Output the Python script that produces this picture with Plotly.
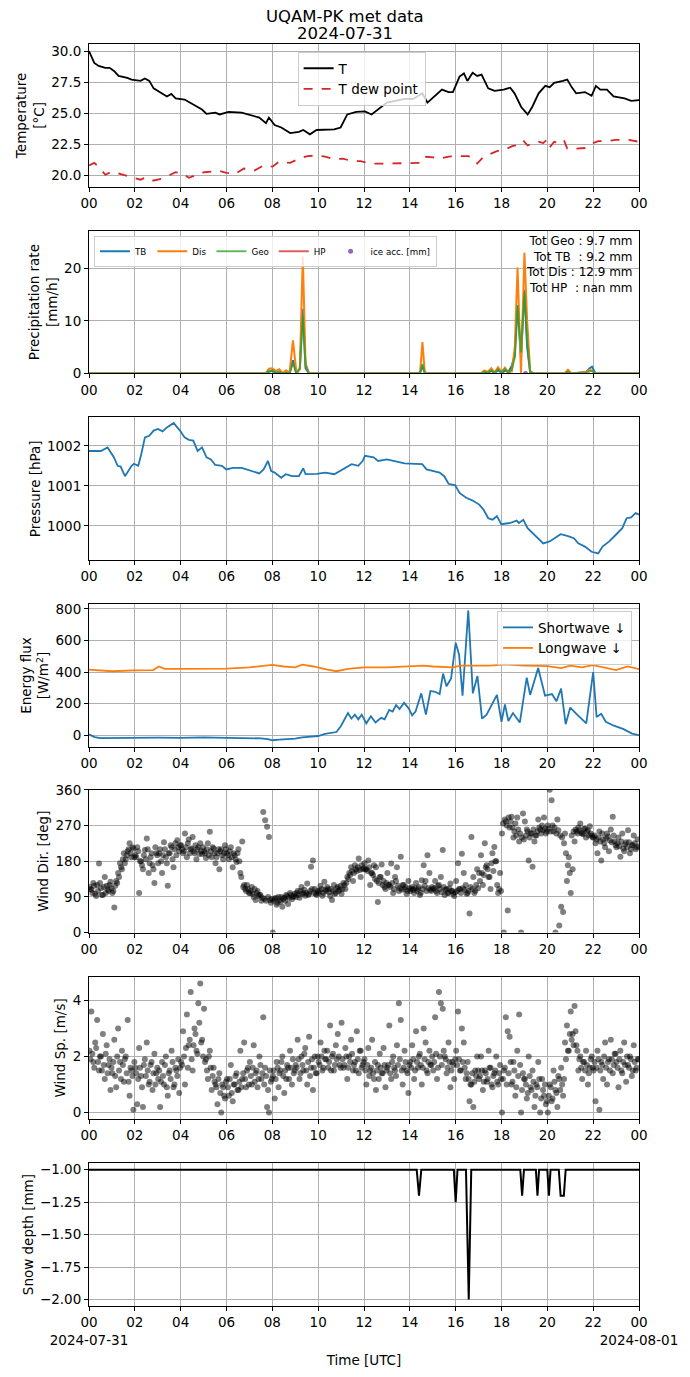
import numpy as np
import pandas as pd
import plotly.graph_objects as go
from plotly.subplots import make_subplots

DAY = pd.Timestamp("2024-07-31")

# --- temperature (hours since 00 UTC) ---
t_hours = [0.00, 0.23, 0.42, 0.71, 0.90, 1.09, 1.29, 1.67, 1.86, 2.25, 2.44, 2.63, 2.82, 3.21, 3.40,
           3.59, 3.78, 4.17, 4.55, 4.93, 5.13, 5.51, 5.70, 6.09, 6.66, 7.05, 7.43, 7.72, 7.85, 8.10,
           8.39, 8.78, 9.16, 9.35, 9.64, 9.93, 10.31, 10.70, 10.98, 11.27, 11.66, 12.04, 12.33, 12.62,
           13.00, 13.38, 13.77, 14.15, 14.54, 14.77, 15.11, 15.40, 15.69, 15.88, 16.17, 16.36, 16.51,
           16.74, 16.94, 17.13, 17.42, 17.70, 18.09, 18.38, 18.57, 18.86, 19.14, 19.34, 19.62, 19.91,
           20.10, 20.30, 20.68, 20.87, 21.06, 21.26, 21.64, 21.93, 22.12, 22.31, 22.60, 22.89, 23.37,
           23.66, 24.00]
t_air = [30.0, 29.05, 28.8, 28.65, 28.65, 28.4, 28.0, 27.85, 27.7, 27.6, 27.8, 27.6, 27.0, 26.6, 26.35,
         26.55, 26.2, 26.1, 25.7, 25.3, 24.95, 25.05, 24.9, 25.1, 25.05, 24.85, 24.65, 24.2, 24.65, 24.05,
         23.85, 23.4, 23.5, 23.65, 23.3, 23.65, 23.7, 23.7, 23.85, 24.9, 25.1, 25.15, 24.9, 25.3,
         25.85, 26.0, 26.15, 26.15, 26.6, 25.85, 26.4, 26.9, 26.7, 26.7, 27.95, 28.2, 27.6,
         28.25, 28.0, 28.1, 27.0, 26.8, 26.9, 27.05, 26.6, 25.5, 24.9, 25.5, 26.6, 27.2,
         27.1, 27.45, 27.6, 27.7, 27.1, 26.6, 26.7, 26.4, 27.2, 26.9, 26.9, 26.35, 26.2,
         26.0, 26.05]
td_hours = [0, 0.23, 0.42, 0.71, 1.0, 1.29, 1.86, 2.25, 2.44, 2.73, 3.21, 3.78, 4.07, 4.36, 4.65, 5.03,
            5.70, 6.0, 6.37, 6.76, 7.24, 7.62, 8.01, 8.29, 8.78, 9.16, 9.54, 9.93, 10.31, 10.70, 11.08,
            11.46, 11.85, 12.23, 12.81, 13.38, 13.96, 14.44, 14.63, 15.02, 15.30, 15.69, 16.07, 16.55,
            16.74, 16.94, 17.22, 17.51, 17.80, 18.18, 18.47, 18.72, 18.95, 19.14, 19.37, 19.62, 19.82,
            19.97, 20.10, 20.30, 20.49, 20.72, 20.87, 21.26, 21.64, 21.93, 22.22, 22.60, 22.98, 23.56, 24.0]
t_dew = [20.8, 21.0, 20.7, 20.05, 20.3, 20.15, 19.85, 19.65, 19.8, 19.55, 19.75, 20.25, 20.15, 19.8, 20.0, 20.25,
         20.35, 20.2, 20.1, 20.55, 20.4, 20.8, 20.7, 21.1, 21.0, 21.35, 21.55, 21.6, 21.5, 21.3, 21.35,
         21.15, 21.15, 20.95, 20.95, 20.95, 20.95, 21.0, 21.5, 21.45, 21.35, 21.5, 21.55, 21.55,
         21.35, 20.95, 21.5, 21.75, 21.95, 22.1, 22.35, 22.45, 22.8, 22.4, 22.6, 22.7, 22.6,
         22.85, 22.25, 22.7, 22.6, 22.85, 22.15, 22.15, 22.2, 22.55, 22.75, 22.75, 22.85, 22.85, 22.7]

# --- precipitation rate [mm/h] ---
pr_hours = [0, 7.7, 7.85, 8.0, 8.15, 8.3, 8.45, 8.6, 8.75, 8.9, 9.05, 9.2, 9.33, 9.45, 9.6,
            14.35, 14.45, 14.55, 14.65, 14.75,
            17.1, 17.25, 17.4, 17.55, 17.7, 17.85, 18.0, 18.15, 18.3, 18.45, 18.58, 18.7, 18.85, 19.0,
            19.12, 19.25, 19.4,
            20.75, 20.9, 21.05,
            21.7, 21.85, 21.95, 22.1, 24]
pr_tb = [0, 0, 0.3, 0.5, 0.1, 0.2, 0, 0.1, 0, 2.5, 0, 1.0, 12.3, 1.0, 0,
         0, 0.1, 1.5, 0.1, 0,
         0, 0.2, 0.1, 0.5, 0.1, 0.6, 0.1, 0.5, 0.3, 1.5, 3.5, 13.0, 3.0, 16.0, 5.0, 0.2, 0,
         0, 0.2, 0,
         0.3, 1.0, 1.3, 0, 0]
pr_dis = [0, 0, 0.9, 1.0, 0.5, 0.8, 0.1, 0.6, 0.1, 6.3, 0.2, 1.0, 22.3, 2.0, 0,
          0, 0.3, 6.0, 0.3, 0,
          0, 0.6, 0.3, 1.0, 0.2, 1.2, 0.3, 1.1, 0.2, 0.4, 5.0, 20.2, 0.0, 23.0, 10.0, 0.5, 0,
          0, 0.7, 0,
          0.3, 0.7, 0.5, 0, 0]
pr_geo = [0, 0, 0.5, 0.6, 0.2, 0.3, 0, 0.2, 0, 2.0, 0, 0.8, 11.0, 1.5, 0,
          0, 0.2, 1.8, 0.2, 0,
          0, 0.3, 0.2, 0.6, 0.2, 0.8, 0.2, 0.8, 0.1, 0.8, 3.0, 13.0, 4.0, 15.5, 6.0, 0.3, 0,
          0, 0.3, 0,
          0.2, 0.4, 0.5, 0, 0]
ice_hours = [19.05]
ice_acc = [0.0]
totals = ["Tot Geo : 9.7 mm", "Tot TB\u00a0 : 9.2 mm", "Tot Dis : 12.9 mm", "Tot HP\u00a0 : nan mm"]

# --- pressure [hPa] ---
p_hours = [0.00, 0.52, 0.81, 1.09, 1.25, 1.38, 1.57, 1.86, 1.96, 2.15, 2.28, 2.44, 2.63, 2.82, 3.01,
           3.21, 3.40, 3.69, 3.97, 4.17, 4.36, 4.55, 4.74, 4.93, 5.13, 5.32, 5.51, 5.80, 5.99, 6.28,
           6.66, 7.05, 7.43, 7.62, 7.81, 7.95, 8.10, 8.39, 8.58, 8.87, 9.16, 9.35, 9.45, 9.93, 10.31,
           10.70, 11.08, 11.46, 11.75, 11.94, 12.04, 12.42, 12.62, 13.00, 13.38, 13.77, 14.25, 14.54,
           14.73, 15.02, 15.30, 15.50, 15.69, 15.98, 16.17, 16.46, 16.74, 17.03, 17.22, 17.42, 17.61,
           17.80, 17.99, 18.38, 18.66, 18.76, 18.95, 19.14, 19.53, 19.82, 20.10, 20.39, 20.58, 20.87,
           21.16, 21.35, 21.64, 21.93, 22.22, 22.41, 22.70, 22.98, 23.27, 23.46, 23.66, 23.85, 24.00]
pressure = [1001.87, 1001.87, 1001.96, 1001.71, 1001.50, 1001.48, 1001.24, 1001.50, 1001.55, 1001.50,
            1001.79, 1002.21, 1002.25, 1002.38, 1002.42, 1002.36, 1002.46, 1002.57, 1002.38, 1002.21,
            1002.15, 1002.13, 1001.87, 1001.96, 1001.71, 1001.66, 1001.52, 1001.50, 1001.41, 1001.45,
            1001.45, 1001.37, 1001.31, 1001.41, 1001.62, 1001.37, 1001.33, 1001.20, 1001.29, 1001.24,
            1001.24, 1001.44, 1001.29, 1001.30, 1001.33, 1001.29, 1001.41, 1001.54, 1001.50, 1001.62,
            1001.75, 1001.71, 1001.62, 1001.66, 1001.61, 1001.56, 1001.55, 1001.54, 1001.41, 1001.37,
            1001.33, 1001.24, 1001.05, 1001.01, 1000.82, 1000.70, 1000.63, 1000.53, 1000.40, 1000.19,
            1000.15, 1000.24, 1000.04, 1000.07, 1000.13, 1000.07, 1000.15, 999.94, 999.73, 999.56,
            999.61, 999.73, 999.79, 999.75, 999.69, 999.56, 999.48, 999.35, 999.31, 999.48,
            999.61, 999.77, 999.94, 1000.19, 1000.21, 1000.32, 1000.28]

# --- radiation [W/m2] ---
sw_hours = [0.0, 0.25, 0.5, 1.0, 2.0, 3.0, 4.0, 5.0, 6.0, 7.0, 7.5, 7.8, 8.0, 8.3, 8.7, 9.0, 9.3, 9.6,
            10.0, 10.3, 10.6, 10.8, 11.0, 11.15, 11.3, 11.45, 11.6, 11.75, 11.9, 12.1, 12.3, 12.5, 12.75,
            12.9, 13.1, 13.25, 13.4, 13.55, 13.75, 13.95, 14.1, 14.25, 14.5, 14.7, 14.9, 15.1, 15.3,
            15.45, 15.6, 15.8, 16.0, 16.15, 16.3, 16.55, 16.75, 16.95, 17.15, 17.35, 17.6, 17.8, 18.0,
            18.15, 18.3, 18.5, 18.8, 19.1, 19.25, 19.6, 19.9, 20.2, 20.4, 20.6, 20.8, 21.0, 21.3, 21.7,
            22.0, 22.15, 22.35, 22.55, 22.9, 23.3, 23.7, 24.0]
sw_down = [5, -12, -18, -17, -18, -15, -17, -14, -17, -16, -20, -25, -32, -28, -25, -22, -14, -12,
           -5, 8, 18, 20, 60, 100, 140, 105, 130, 100, 130, 75, 120, 80, 110,
           100, 160, 150, 190, 165, 205, 170, 125, 150, 265, 130, 280, 275, 260,
           390, 310, 360, 585, 510, 250, 790, 265, 375, 105, 130, 200, 255, 85,
           195, 90, 140, 80, 365, 255, 425, 250, 260, 215, 295, 70, 175, 130, 75,
           400, 115, 135, 85, 60, 40, 10, 0]
lw_hours = [0, 1, 2, 2.8, 3.05, 3.3, 4, 5, 6, 7, 8, 8.5, 9, 9.3, 9.8, 10.4, 10.8, 11.3, 12, 13, 14,
            14.6, 15, 15.9, 16.2, 17, 17.5, 18.2, 19, 20, 20.6, 21, 21.5, 22, 22.6, 23, 23.5, 24]
lw_down = [415, 405, 410, 412, 435, 420, 420, 422, 422, 430, 445, 435, 430, 447, 435, 415, 405, 420, 430, 430, 435,
           440, 435, 430, 440, 440, 440, 448, 440, 437, 425, 440, 430, 443, 425, 412, 435, 418]

# --- wind, two interleaved 5-minute sample sets, one row per hour ---
wind_dir = [
    [115, 108, 125, 98, 120, 174, 112, 95, 140, 118, 105, 128],
    [100, 63, 130, 150, 175, 160, 200, 185, 205, 225, 190, 212],
    [195, 215, 100, 180, 160, 208, 237, 150, 190, 170, 125, 200],
    [175, 210, 150, 228, 190, 118, 200, 215, 165, 225, 233, 205],
    [220, 200, 250, 190, 235, 210, 241, 200, 185, 215, 225, 198],
    [205, 188, 225, 254, 190, 212, 175, 200, 160, 210, 185, 220],
    [200, 185, 215, 165, 195, 178, 210, 150, 230, 120, 105, 110],
    [100, 115, 90, 82, 105, 95, 80, 304, 283, 267, 241, 75],
    [0, 85, 70, 90, 78, 65, 88, 95, 72, 100, 84, 92],
    [90, 105, 88, 115, 100, 93, 124, 98, 166, 182, 110, 95],
    [100, 118, 93, 128, 105, 110, 92, 82, 120, 100, 115, 108],
    [98, 125, 110, 140, 150, 165, 130, 170, 155, 187, 140, 160],
    [175, 160, 182, 120, 150, 170, 165, 77, 140, 172, 130, 110],
    [150, 120, 174, 100, 140, 165, 105, 191, 120, 110, 98, 130],
    [105, 115, 100, 125, 110, 95, 132, 170, 130, 195, 150, 105],
    [110, 130, 100, 120, 140, 208, 95, 110, 100, 124, 105, 92],
    [130, 175, 110, 199, 150, 120, 100, 48, 241, 140, 105, 160],
    [150, 195, 120, 225, 170, 140, 110, 200, 216, 180, 100, 150],
    [250, 0, 280, 56, 265, 292, 240, 275, 290, 230, 0, 300],
    [280, 260, 182, 250, 166, 230, 245, 285, 260, 270, 290, 250],
    [270, 360, 334, 255, 0, 285, 18, 65, 52, 250, 130, 190],
    [100, 160, 230, 255, 265, 275, 250, 262, 240, 258, 268, 245],
    [240, 225, 200, 255, 182, 235, 215, 250, 205, 260, 292, 230],
    [215, 240, 191, 250, 205, 228, 258, 200, 220, 245, 210, 235],
]
wind_dir_b = [
    [110, 100, 118, 92, 105, 125, 95, 115, 100, 108, 120, 112],
    [105, 118, 125, 140, 165, 185, 175, 195, 210, 200, 215, 190],
    [190, 205, 180, 170, 195, 185, 210, 175, 200, 160, 215, 195],
    [200, 180, 195, 210, 175, 200, 220, 185, 210, 195, 215, 220],
    [210, 205, 215, 225, 200, 212, 205, 220, 210, 198, 205, 215],
    [200, 210, 195, 205, 215, 200, 190, 210, 205, 195, 200, 210],
    [195, 205, 190, 200, 185, 200, 180, 140, 115, 110, 120, 100],
    [105, 98, 110, 100, 92, 95, 88, 85, 80, 90, 82, 85],
    [80, 88, 75, 82, 90, 85, 80, 92, 88, 95, 90, 98],
    [100, 95, 105, 98, 108, 100, 95, 105, 110, 100, 98, 105],
    [105, 110, 100, 108, 115, 102, 110, 105, 98, 112, 105, 118],
    [110, 120, 125, 135, 145, 155, 150, 160, 165, 158, 170, 162],
    [160, 155, 165, 150, 145, 135, 130, 125, 140, 120, 115, 125],
    [120, 115, 125, 110, 130, 118, 112, 108, 120, 115, 105, 112],
    [110, 108, 112, 105, 115, 100, 110, 118, 105, 112, 108, 115],
    [112, 105, 118, 110, 102, 115, 108, 100, 112, 105, 98, 102],
    [105, 110, 100, 112, 108, 98, 105, 115, 110, 100, 120, 112],
    [130, 150, 145, 165, 160, 140, 175, 155, 180, 120, 110, 105],
    [275, 285, 270, 290, 280, 265, 255, 245, 260, 250, 240, 235],
    [245, 255, 240, 250, 260, 245, 255, 265, 250, 258, 262, 255],
    [262, 255, 270, 265, 250, 258, 245, 240, 225, 200, 170, 150],
    [245, 255, 260, 250, 258, 252, 248, 262, 255, 245, 250, 240],
    [245, 235, 240, 230, 250, 225, 238, 242, 232, 228, 245, 220],
    [225, 218, 230, 212, 222, 215, 228, 210, 220, 225, 215, 218],
]
wind_sp = [
    [2.2, 3.6, 1.8, 2.5, 3.3, 1.5, 2.0, 2.8, 1.2, 2.4, 1.7, 0.8],
    [1.4, 2.6, 0.9, 3.0, 1.8, 2.2, 1.1, 2.0, 3.3, 0.6, 1.5, 0.1],
    [1.6, 0.3, 2.3, 1.3, 0.2, 1.9, 2.5, 1.0, 1.7, 0.8, 2.1, 1.4],
    [1.2, 0.2, 1.8, 1.0, 2.0, 0.6, 1.5, 2.2, 0.9, 1.6, 1.3, 0.7],
    [1.8, 2.9, 1.0, 3.5, 2.4, 4.3, 1.5, 3.0, 2.2, 3.9, 4.6, 2.6],
    [3.7, 1.9, 1.2, 2.2, 0.8, 1.6, 1.0, 0.3, 1.4, 0.0, 0.9, 0.5],
    [1.2, 0.6, 1.7, 0.4, 1.0, 1.4, 0.8, 2.2, 1.2, 2.5, 0.9, 1.6],
    [1.8, 1.0, 2.4, 1.4, 0.9, 2.0, 1.2, 3.4, 1.6, 0.2, 0.0, 1.1],
    [1.3, 0.5, 1.8, 0.9, 1.5, 2.0, 0.7, 1.2, 1.6, 2.2, 1.0, 1.4],
    [1.7, 2.6, 1.2, 2.0, 1.5, 2.3, 1.0, 2.7, 1.6, 0.8, 2.0, 1.4],
    [1.8, 2.5, 1.5, 2.2, 1.9, 1.6, 3.1, 2.0, 1.5, 2.4, 2.8, 1.7],
    [3.2, 1.6, 2.3, 1.2, 2.0, 2.6, 1.5, 1.8, 2.9, 1.4, 2.2, 1.7],
    [1.9, 1.0, 2.3, 1.5, 2.6, 1.2, 0.8, 1.7, 2.1, 1.4, 2.3, 0.9],
    [1.6, 3.1, 1.2, 2.0, 1.5, 2.4, 3.9, 3.3, 1.0, 2.2, 1.5, 0.7],
    [1.8, 2.4, 1.2, 2.9, 1.6, 2.1, 1.0, 3.0, 2.5, 1.4, 2.2, 1.7],
    [1.5, 3.4, 1.2, 4.3, 3.9, 3.7, 2.0, 1.4, 2.5, 0.9, 1.8, 1.2],
    [2.2, 3.6, 1.5, 3.0, 2.5, 1.2, 1.8, 0.4, 1.0, 0.2, 1.5, 2.0],
    [1.2, 2.0, 0.8, 1.5, 1.1, 2.2, 1.6, 0.9, 1.4, 2.0, 1.0, 1.7],
    [0.0, 1.5, 3.4, 2.9, 2.7, 1.0, 1.8, 0.6, 2.2, 3.5, 0.0, 1.4],
    [1.2, 0.5, 2.0, 0.9, 1.5, 0.2, 1.0, 1.8, 0.0, 1.2, 0.6, 0.3],
    [0.0, 1.0, 0.4, 1.5, 0.8, 0.2, 1.2, 1.6, 0.6, 2.5, 3.1, 2.2],
    [3.6, 2.8, 3.8, 2.4, 1.5, 2.0, 1.2, 1.8, 2.2, 1.0, 1.6, 2.0],
    [1.5, 0.4, 2.2, 0.1, 1.8, 1.2, 2.5, 1.0, 1.9, 2.6, 1.4, 2.1],
    [1.8, 0.9, 2.2, 1.4, 2.5, 1.1, 1.7, 2.0, 1.3, 2.4, 1.5, 1.9],
]
wind_sp_b = [
    [1.9, 2.1, 1.6, 2.3, 1.8, 2.0, 1.5, 1.7, 2.1, 1.4, 1.9, 1.6],
    [1.8, 1.3, 2.0, 1.5, 1.2, 1.7, 1.9, 1.4, 1.1, 1.6, 1.3, 1.8],
    [1.4, 1.2, 1.6, 0.9, 1.7, 1.3, 1.5, 1.1, 1.8, 1.4, 1.0, 1.6],
    [1.5, 1.1, 1.3, 1.7, 0.9, 1.4, 1.2, 1.8, 1.0, 1.5, 1.9, 1.6],
    [1.7, 2.0, 2.3, 1.6, 2.6, 1.9, 2.4, 2.8, 2.1, 3.2, 2.5, 2.0],
    [1.8, 1.5, 2.0, 1.6, 1.3, 1.1, 0.9, 1.2, 0.7, 1.0, 0.6, 1.1],
    [0.9, 1.2, 0.7, 1.0, 1.3, 0.8, 1.1, 0.9, 1.4, 1.2, 1.5, 1.0],
    [1.3, 1.6, 1.1, 1.5, 1.2, 1.7, 1.4, 1.0, 1.3, 0.8, 1.5, 1.2],
    [1.5, 1.2, 1.6, 1.4, 1.8, 1.3, 1.5, 1.7, 1.2, 1.6, 1.9, 1.5],
    [1.6, 1.9, 1.4, 1.7, 2.1, 1.5, 1.8, 1.3, 1.9, 1.6, 1.4, 2.0],
    [1.7, 2.0, 1.6, 1.9, 2.2, 1.8, 1.5, 2.1, 1.7, 1.9, 2.0, 1.6],
    [1.9, 1.7, 2.0, 1.6, 1.8, 2.1, 1.7, 1.5, 1.9, 2.2, 1.6, 1.8],
    [1.5, 1.7, 1.3, 1.6, 1.4, 1.8, 1.5, 1.2, 1.6, 1.4, 1.7, 1.5],
    [1.7, 1.4, 1.8, 1.6, 1.3, 1.7, 1.9, 1.5, 1.6, 1.8, 1.4, 1.7],
    [1.6, 1.9, 1.5, 1.8, 2.0, 1.7, 1.6, 1.9, 1.5, 1.8, 1.7, 2.0],
    [1.8, 2.1, 1.6, 2.0, 1.7, 2.2, 1.9, 1.6, 1.8, 1.5, 1.7, 1.9],
    [1.7, 1.9, 1.5, 1.8, 1.6, 1.4, 1.2, 1.0, 1.4, 1.1, 1.3, 1.5],
    [1.3, 1.5, 1.1, 1.4, 1.2, 1.6, 1.0, 1.3, 1.5, 1.1, 1.4, 1.2],
    [1.2, 1.6, 1.0, 1.4, 1.8, 1.1, 1.5, 0.9, 1.3, 1.7, 0.8, 1.2],
    [1.0, 0.7, 1.3, 0.8, 1.1, 0.6, 0.9, 1.2, 0.5, 0.8, 1.0, 0.4],
    [0.6, 0.9, 0.5, 1.1, 0.7, 1.3, 0.8, 1.0, 1.2, 1.9, 2.2, 2.8],
    [2.6, 2.4, 2.9, 2.2, 1.9, 1.6, 1.8, 1.5, 1.7, 1.4, 1.9, 1.6],
    [1.8, 1.6, 1.9, 1.5, 1.7, 2.0, 1.6, 1.8, 1.5, 1.9, 1.7, 2.1],
    [1.6, 1.9, 1.5, 1.8, 1.7, 2.0, 1.6, 1.9, 1.5, 1.8, 1.6, 1.9],
]

# --- snow depth [mm] ---
sn_hours = [0, 14.3, 14.4, 14.5, 15.92, 16.0, 16.08, 16.45, 16.57, 16.68, 18.82, 18.9, 18.98,
            19.5, 19.57, 19.64, 20.0, 20.07, 20.14, 20.5, 20.58, 20.72, 20.8, 24]
snow = [-1, -1, -1.2, -1, -1, -1.25, -1, -1, -2.0, -1, -1, -1.2, -1,
        -1, -1.2, -1, -1, -1.2, -1, -1, -1.2, -1.2, -1, -1]

tick_hours = [0, 2, 4, 6, 8, 10, 12, 14, 16, 18, 20, 22, 24]
tick_text = ["00", "02", "04", "06", "08", "10", "12", "14", "16", "18", "20", "22", "00"]


def tt(hours):
    return DAY + pd.to_timedelta(np.asarray(hours, dtype=float), unit="h")


slot = np.arange(24 * 12) * 5
wind_t = np.concatenate([DAY + pd.to_timedelta(slot + 1.25, unit="min"),
                         DAY + pd.to_timedelta(slot + 3.75, unit="min")])
wd_all = np.concatenate([np.ravel(wind_dir), np.ravel(wind_dir_b)])
ws_all = np.concatenate([np.ravel(wind_sp), np.ravel(wind_sp_b)])

BLUE, ORANGE, GREEN, RED, PURPLE = "#1f77b4", "#ff7f0e", "#2ca02c", "#d62728", "#9467bd"
FS = 13.5

fig = make_subplots(rows=7, cols=1)

fig.add_trace(go.Scatter(x=tt(t_hours), y=t_air, mode="lines", name="T",
                         line=dict(color="black", width=1.8), legend="legend"), row=1, col=1)
fig.add_trace(go.Scatter(x=tt(td_hours), y=t_dew, mode="lines", name="T dew point",
                         line=dict(color=RED, width=1.8, dash="dash"), legend="legend"), row=1, col=1)

fig.add_trace(go.Scatter(x=tt(pr_hours), y=pr_tb, mode="lines", name="TB",
                         line=dict(color=BLUE, width=2), legend="legend2"), row=2, col=1)
fig.add_trace(go.Scatter(x=tt(pr_hours), y=pr_dis, mode="lines", name="Dis",
                         line=dict(color=ORANGE, width=2), legend="legend2"), row=2, col=1)
fig.add_trace(go.Scatter(x=tt(pr_hours), y=pr_geo, mode="lines", name="Geo", opacity=0.75,
                         line=dict(color=GREEN, width=2), legend="legend2"), row=2, col=1)
fig.add_trace(go.Scatter(x=[None], y=[None], mode="lines", name="HP", opacity=0.75,
                         line=dict(color=RED, width=2), legend="legend2"), row=2, col=1)
fig.add_trace(go.Scatter(x=tt(ice_hours), y=ice_acc, mode="markers", name="ice acc. [mm]",
                         marker=dict(color=PURPLE, size=5), legend="legend2"), row=2, col=1)

fig.add_trace(go.Scatter(x=tt(p_hours), y=pressure, mode="lines", showlegend=False,
                         line=dict(color=BLUE, width=1.8)), row=3, col=1)

fig.add_trace(go.Scatter(x=tt(sw_hours), y=sw_down, mode="lines", name="Shortwave \u2193",
                         line=dict(color=BLUE, width=1.8), legend="legend3"), row=4, col=1)
fig.add_trace(go.Scatter(x=tt(lw_hours), y=lw_down, mode="lines", name="Longwave \u2193",
                         line=dict(color=ORANGE, width=1.8), legend="legend3"), row=4, col=1)

fig.add_trace(go.Scatter(x=wind_t, y=wd_all, mode="markers", showlegend=False,
                         marker=dict(color="black", size=6, opacity=0.5, line=dict(width=0))), row=5, col=1)
fig.add_trace(go.Scatter(x=wind_t, y=ws_all, mode="markers", showlegend=False,
                         marker=dict(color="black", size=6, opacity=0.5, line=dict(width=0))), row=6, col=1)

fig.add_trace(go.Scatter(x=tt(sn_hours), y=snow, mode="lines", showlegend=False,
                         line=dict(color="black", width=2)), row=7, col=1)

# the page adds an 8 px body margin, so the figure is 8 px smaller than the window
OFF = 8
W, H = 690 - OFF, 1377 - OFF
ML, MR, MT, MB = 89 - OFF, 50, 44 - OFF, 69
PH = H - MT - MB
PW = W - ML - MR
# panel boxes in window pixels (top, bottom)
panel_px = [(44, 187), (231, 374), (418, 561), (605, 748), (791, 934), (978, 1121), (1165, 1308)]


def py(pix):
    return (H - MB - (pix - OFF)) / PH


def px(pix):
    return (pix - OFF - ML) / PW


for i, (top, bot) in enumerate(panel_px, start=1):
    key = "yaxis" if i == 1 else f"yaxis{i}"
    fig.update_layout({key: dict(domain=[py(bot), py(top)])})

axis_style = dict(showgrid=True, gridcolor="#b0b0b0", gridwidth=0.8, showline=True, linecolor="black",
                  linewidth=1, mirror=True, ticks="outside", ticklen=4, tickcolor="black",
                  tickfont=dict(size=FS), zeroline=False)

fig.update_xaxes(type="date", range=[DAY, DAY + pd.Timedelta(hours=24)], tickangle=0,
                 tickvals=tt(tick_hours), ticktext=tick_text, **axis_style)
bottom_text = list(tick_text)
bottom_text[0] = "00<br>2024-07-31"
bottom_text[-1] = "00<br>2024-08-01"
fig.update_xaxes(ticktext=bottom_text, title=dict(text="Time [UTC]", font=dict(size=FS), standoff=8),
                 row=7, col=1)

SO = 3
fig.update_yaxes(**axis_style)
fig.update_yaxes(range=[19.08, 30.57], tickvals=[20, 22.5, 25, 27.5, 30], tickformat=".1f",
                 title=dict(text="Temperature<br>[°C]", font=dict(size=FS), standoff=SO), row=1, col=1)
fig.update_yaxes(range=[0, 27.2], tickvals=[0, 10, 20],
                 title=dict(text="Precipitation rate<br>[mm/h]", font=dict(size=FS), standoff=SO), row=2, col=1)
fig.update_yaxes(range=[999.14, 1002.71], tickvals=[1000, 1001, 1002], tickformat="d",
                 title=dict(text="Pressure [hPa]", font=dict(size=FS), standoff=SO), row=3, col=1)
fig.update_yaxes(range=[-74, 830], tickvals=[0, 200, 400, 600, 800],
                 title=dict(text="Energy flux<br>[W/m<sup>2</sup>]", font=dict(size=FS), standoff=SO), row=4, col=1)
fig.update_yaxes(range=[0, 360], tickvals=[0, 90, 180, 270, 360],
                 title=dict(text="Wind Dir. [deg]", font=dict(size=FS), standoff=SO), row=5, col=1)
fig.update_yaxes(range=[-0.24, 4.85], tickvals=[0, 2, 4],
                 title=dict(text="Wind Sp. [m/s]", font=dict(size=FS), standoff=SO), row=6, col=1)
fig.update_yaxes(range=[-2.05, -0.95], tickvals=[-1, -1.25, -1.5, -1.75, -2], tickformat=".2f",
                 title=dict(text="Snow depth [mm]", font=dict(size=FS), standoff=SO), row=7, col=1)

legend_box = dict(bgcolor="rgba(255,255,255,0.8)", bordercolor="#cccccc", borderwidth=1, itemwidth=30)

fig.update_layout(
    width=W, height=H,
    margin=dict(l=ML, r=MR, t=MT, b=MB),
    paper_bgcolor="white", plot_bgcolor="white",
    font=dict(family="DejaVu Sans", size=FS, color="black"),
    legend=dict(x=px(298), y=py(52), xanchor="left", yanchor="top", font=dict(size=FS), **legend_box),
    legend2=dict(x=px(94), y=py(236), xanchor="left", yanchor="top", orientation="h",
                 font=dict(size=8.7), **legend_box),
    legend3=dict(x=px(633), y=py(612), xanchor="right", yanchor="top", font=dict(size=FS), **legend_box),
)

# two-line figure title
for text, ypix in [("UQAM-PK met data", 16), ("2024-07-31", 33)]:
    fig.add_annotation(text=text, xref="paper", yref="paper", x=px(345), y=py(ypix),
                       xanchor="center", yanchor="middle", showarrow=False, font=dict(size=16.5))

fig.add_annotation(text="<br>".join(totals), xref="paper", yref="paper", x=px(636), y=py(232),
                   xanchor="right", yanchor="top", align="right", showarrow=False, font=dict(size=12))

fig.write_html("out.html")
